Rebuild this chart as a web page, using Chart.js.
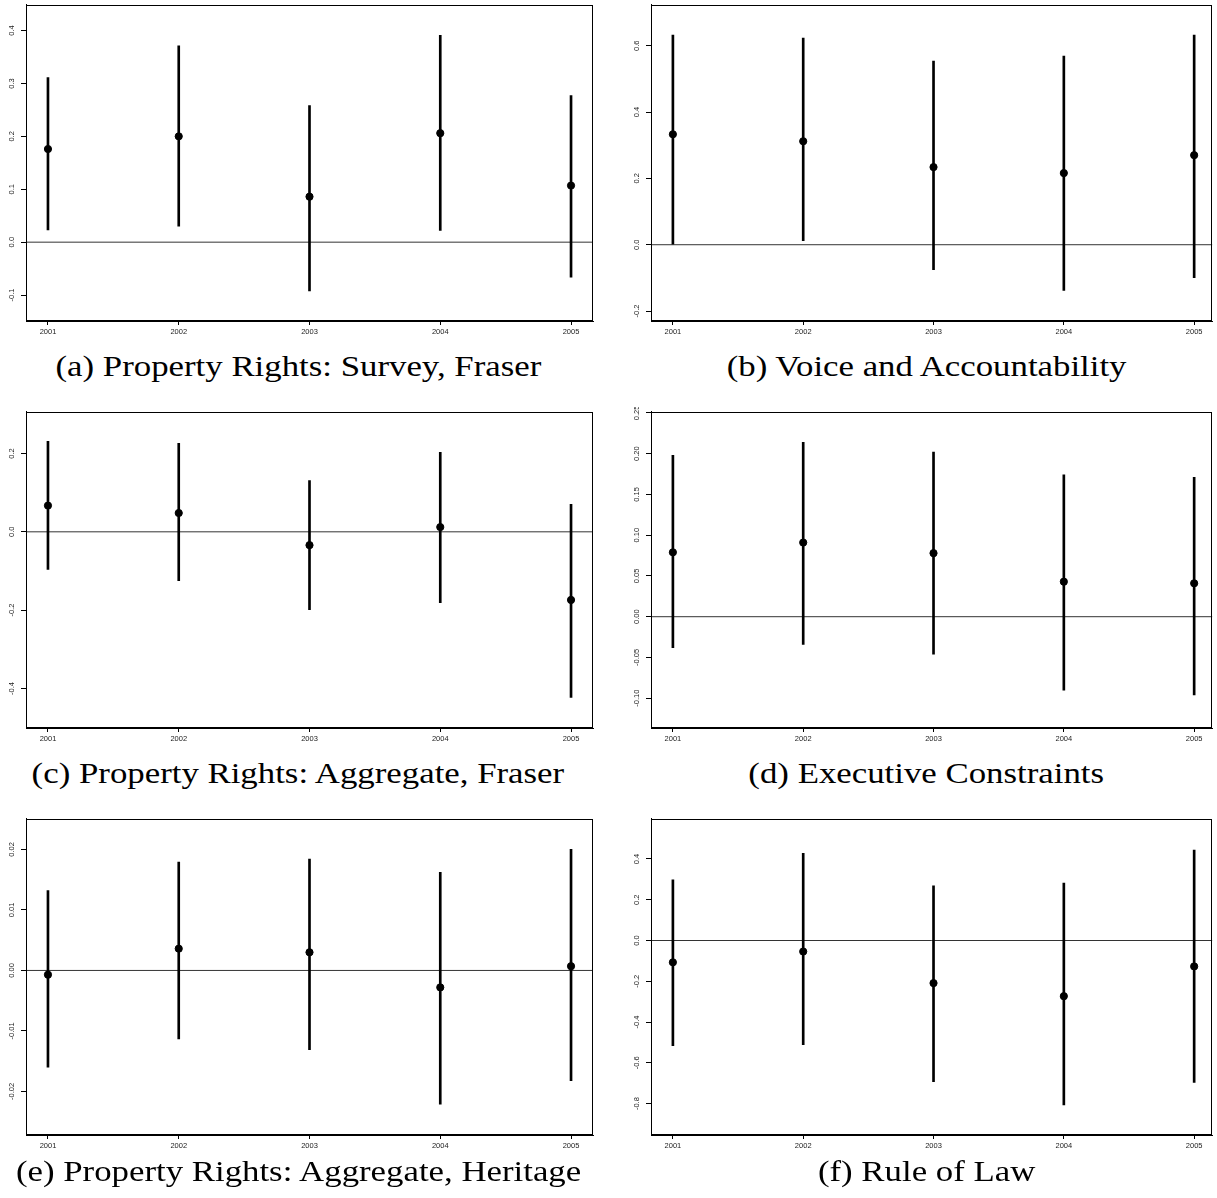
<!DOCTYPE html>
<html>
<head>
<meta charset="utf-8">
<script src="https://cdn.jsdelivr.net/npm/chart.js@4.4.1/dist/chart.umd.min.js"></script>
<style>
  html, body { margin: 0; padding: 0; background: #fff; }
  body { width: 1217px; height: 1198px; position: relative; overflow: hidden; }
  .panel { position: absolute; }
  .cap { position: absolute; font-family: "Liberation Serif", serif; font-size: 29px; color: #000;
         white-space: nowrap; transform-origin: center center; line-height: 1; }
</style>
</head>
<body>
<script>
// ---------- data ----------
const years = [2001, 2002, 2003, 2004, 2005];
const yearLabels = ["2001", "2002", "2003", "2004", "2005"];

// (a) Property Rights: Survey, Fraser
const aEst = [0.176, 0.200, 0.086, 0.206, 0.107];
const aLo  = [0.023, 0.030, -0.092, 0.022, -0.066];
const aHi  = [0.311, 0.371, 0.258, 0.391, 0.277];
const aTicks = ["-0.1", "0.0", "0.1", "0.2", "0.3", "0.4"];

// (b) Voice and Accountability
const bEst = [0.333, 0.312, 0.234, 0.216, 0.270];
const bLo  = [0.000, 0.012, -0.075, -0.138, -0.099];
const bHi  = [0.632, 0.623, 0.554, 0.569, 0.632];
const bTicks = ["-0.2", "0.0", "0.2", "0.4", "0.6"];

// (c) Property Rights: Aggregate, Fraser
const cEst = [0.067, 0.048, -0.034, 0.012, -0.174];
const cLo  = [-0.096, -0.125, -0.199, -0.181, -0.423];
const cHi  = [0.231, 0.226, 0.131, 0.203, 0.070];
const cTicks = ["-0.4", "-0.2", "0.0", "0.2"];

// (d) Executive Constraints
const dEst = [0.079, 0.091, 0.078, 0.043, 0.041];
const dLo  = [-0.038, -0.034, -0.046, -0.090, -0.096];
const dHi  = [0.198, 0.214, 0.202, 0.174, 0.171];
const dTicks = ["-0.10", "-0.05", "0.00", "0.05", "0.10", "0.15", "0.20", "0.25"];

// (e) Property Rights: Aggregate, Heritage
const eEst = [-0.0007, 0.0036, 0.0030, -0.0028, 0.0007];
const eLo  = [-0.0160, -0.0113, -0.0131, -0.0221, -0.0182];
const eHi  = [0.0132, 0.0179, 0.0184, 0.0162, 0.0200];
const eTicks = ["-0.02", "-0.01", "0.00", "0.01", "0.02"];

// (f) Rule of Law
const fEst = [-0.107, -0.054, -0.209, -0.273, -0.127];
const fLo  = [-0.516, -0.511, -0.692, -0.806, -0.696];
const fHi  = [0.298, 0.428, 0.268, 0.282, 0.443];
const fTicks = ["-0.8", "-0.6", "-0.4", "-0.2", "0.0", "0.2", "0.4"];

const captions = [
  "(a) Property Rights: Survey, Fraser",
  "(b) Voice and Accountability",
  "(c) Property Rights: Aggregate, Fraser",
  "(d) Executive Constraints",
  "(e) Property Rights: Aggregate, Heritage",
  "(f) Rule of Law"
];

// ---------- layout ----------
const panels = [
  { est: aEst, lo: aLo, hi: aHi, ticks: aTicks, yMin: -0.149, yMax: 0.449, col: 0, row: 0 },
  { est: bEst, lo: bLo, hi: bHi, ticks: bTicks, yMin: -0.230, yMax: 0.724, col: 1, row: 0 },
  { est: cEst, lo: cLo, hi: cHi, ticks: cTicks, yMin: -0.501, yMax: 0.307, col: 0, row: 1 },
  { est: dEst, lo: dLo, hi: dHi, ticks: dTicks, yMin: -0.1365, yMax: 0.2516, col: 1, row: 1 },
  { est: eEst, lo: eLo, hi: eHi, ticks: eTicks, yMin: -0.0272, yMax: 0.0251, col: 0, row: 2 },
  { est: fEst, lo: fLo, hi: fHi, ticks: fTicks, yMin: -0.954, yMax: 0.598, col: 1, row: 2 }
];
const colLeft = [0, 625];
const colWidth = [600, 592];
const colPadRight = [7, 1];
const colXMax = [2005.168, 2005.14];
const rowTop = [0, 407, 814];
const capCenterX = [298, 926];
const capCenterY = [366, 773, 1171];
const H = 345;

const boxPlugin = {
  id: 'rbox',
  afterDraw(chart) {
    const { ctx, chartArea: a } = chart;
    ctx.save();
    ctx.strokeStyle = '#000';
    ctx.lineWidth = 1;
    ctx.strokeRect(Math.round(a.left) + 0.5, Math.round(a.top) + 0.5,
                   Math.round(a.right - a.left) - 1, Math.round(a.bottom - a.top) - 1);
    // rotated y tick labels (R style, las = 0)
    const s = chart.scales.y;
    ctx.fillStyle = '#222';
    ctx.font = '7.5px "Liberation Sans", Arial, sans-serif';
    ctx.textAlign = 'center';
    ctx.textBaseline = 'middle';
    s.ticks.forEach(t => {
      const y = s.getPixelForValue(t.value);
      ctx.save();
      ctx.translate(a.left - 14, y);
      ctx.rotate(-Math.PI / 2);
      ctx.fillText(t.label, 0, 0);
      ctx.restore();
    });
    ctx.restore();
  }
};

panels.forEach((p, i) => {
  const div = document.createElement('div');
  div.className = 'panel';
  div.style.left = colLeft[p.col] + 'px';
  div.style.top = rowTop[p.row] + 'px';
  div.style.width = colWidth[p.col] + 'px';
  div.style.height = H + 'px';
  const cv = document.createElement('canvas');
  cv.width = colWidth[p.col];
  cv.height = H;
  div.appendChild(cv);
  document.body.appendChild(div);

  const xMin = 2000.832, xMax = colXMax[p.col];
  const tickVals = p.ticks.map(s => parseFloat(s));

  new Chart(cv.getContext('2d'), {
    type: 'bar',
    data: {
      datasets: [
        { type: 'line', data: [{ x: xMin, y: 0 }, { x: xMax, y: 0 }],
          borderColor: '#333', borderWidth: 1, pointRadius: 0, order: 3 },
        { type: 'bar', data: years.map((yr, k) => ({ x: yr, y: [p.lo[k], p.hi[k]] })),
          backgroundColor: '#000', borderWidth: 0, barThickness: 2, grouped: false, order: 2 },
        { type: 'scatter', data: years.map((yr, k) => ({ x: yr, y: p.est[k] })),
          backgroundColor: '#000', borderColor: '#000', pointRadius: 3.6, pointHoverRadius: 3.6, order: 1 }
      ]
    },
    options: {
      responsive: false,
      animation: false,
      devicePixelRatio: 1,
      layout: { padding: { top: 2, right: colPadRight[p.col], left: 0, bottom: 0 } },
      plugins: { legend: { display: false }, tooltip: { enabled: false } },
      scales: {
        x: {
          type: 'linear', min: xMin, max: xMax, offset: false,
          afterBuildTicks: s => { s.ticks = years.map(v => ({ value: v })); },
          afterFit: s => { s.height = 24; },
          ticks: {
            autoSkip: false, maxRotation: 0, minRotation: 0, padding: 2,
            color: '#222', font: { family: '"Liberation Sans", Arial, sans-serif', size: 7.5 },
            callback: (v) => yearLabels[years.indexOf(v)]
          },
          grid: { display: true, offset: false, drawOnChartArea: false, drawTicks: true, tickLength: 4, color: '#000' },
          border: { display: true, color: '#000', width: 1 }
        },
        y: {
          type: 'linear', min: p.yMin, max: p.yMax,
          afterBuildTicks: s => { s.ticks = tickVals.map(v => ({ value: v })); },
          afterFit: s => { s.width = 26; },
          ticks: {
            display: false,
            callback: (v) => p.ticks[tickVals.indexOf(v)]
          },
          grid: { display: true, offset: false, drawOnChartArea: false, drawTicks: true, tickLength: 5, color: '#000' },
          border: { display: true, color: '#000', width: 1 }
        }
      }
    },
    plugins: [boxPlugin]
  });

  const cap = document.createElement('div');
  cap.className = 'cap';
  cap.textContent = captions[i];
  document.body.appendChild(cap);
  const w = cap.offsetWidth, h = cap.offsetHeight;
  cap.style.left = (capCenterX[p.col] - w / 2) + 'px';
  cap.style.top = (capCenterY[p.row] - h / 2) + 'px';
  cap.style.transform = 'scaleX(1.2)';
});
</script>
</body>
</html>
